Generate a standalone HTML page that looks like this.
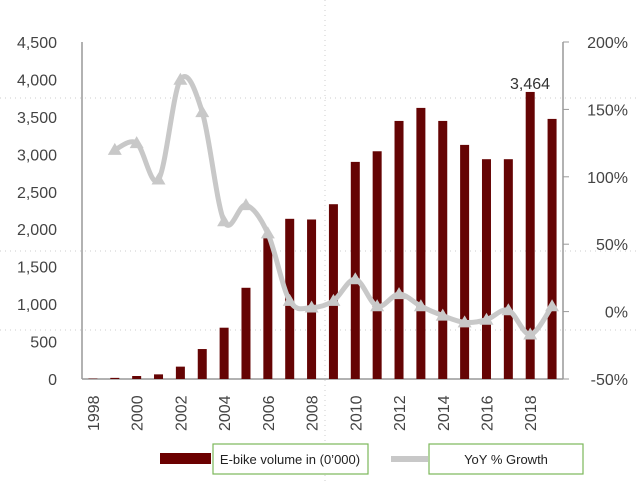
<!DOCTYPE html>
<html><head><meta charset="utf-8"><style>
body{margin:0;background:#fff;}
svg{display:block;font-family:"Liberation Sans",sans-serif;}
</style></head><body>
<svg id="chart" width="640" height="481" viewBox="0 0 640 481" xmlns="http://www.w3.org/2000/svg">
<g id="grid" stroke="#ccc" stroke-width="1" stroke-dasharray="1,4">
<line x1="325" y1="0" x2="325" y2="481"/><line x1="0" y1="251" x2="640" y2="251"/>
<line x1="0" y1="98" x2="640" y2="98"/><line x1="0" y1="330" x2="640" y2="330"/>
</g>
<line x1="82" y1="42" x2="82" y2="379" stroke="#999" stroke-width="1.5"/>
<line x1="563" y1="42" x2="563" y2="379" stroke="#999" stroke-width="1.5"/>
<line x1="82" y1="379" x2="563" y2="379" stroke="#999" stroke-width="1.5"/>
<g id="ticks"></g><g id="bars"></g><g id="line"></g><g id="labels"></g>
<text x="530" y="89" text-anchor="middle" font-size="16" fill="#333">3,464</text>
<rect x="160" y="453" width="51" height="11" fill="#6b0000"/>
<rect x="213" y="444" width="155" height="30" fill="#fff" stroke="#7cb85a" stroke-width="1.2"/>
<text x="290" y="464" text-anchor="middle" font-size="13" fill="#222">E-bike volume in (0’000)</text>
<line x1="391" y1="459" x2="428" y2="459" stroke="#c8c8c8" stroke-width="6"/>
<rect x="429" y="444" width="154" height="30" fill="#fff" stroke="#7cb85a" stroke-width="1.2"/>
<text x="506" y="464" text-anchor="middle" font-size="13" fill="#222">YoY % Growth</text>
</svg>
<script>
const years=[1998,1999,2000,2001,2002,2003,2004,2005,2006,2007,2008,2009,2010,2011,2012,2013,2014,2015,2016,2017,2018,2019];
const volume=[5,15,40,62,165,400,685,1218,1921,2139,2130,2334,2899,3041,3446,3620,3446,3126,2935,2935,3833,3473];
const growth=[null,120,125,98,172,148,67,79,58,8,3,8,24,4,13,4,-3,-8,-6,1,-17,4];
const leftTicks=[0,500,1000,1500,2000,2500,3000,3500,4000,4500];
const leftTickLabels=["0","500","1,000","1,500","2,000","2,500","3,000","3,500","4,000","4,500"];
const rightTicks=[-50,0,50,100,150,200];
const rightTickLabels=["-50%","0%","50%","100%","150%","200%"];
const NS="http://www.w3.org/2000/svg";
const x0=82,x1=563,yT=42,yB=379,band=(x1-x0)/years.length;
const xC=i=>x0+(i+0.5)*band;
const yL=v=>yB-v/4500*(yB-yT);
const yR=v=>yB-(v+50)/250*(yB-yT);
function mk(p,t,a){const e=document.createElementNS(NS,t);for(const k in a)e.setAttribute(k,a[k]);document.getElementById(p).appendChild(e);return e;}
leftTicks.forEach((v,i)=>{const t=mk('labels','text',{x:57,y:yL(v)+6,'text-anchor':'end','font-size':16,fill:'#444'});t.textContent=leftTickLabels[i];

});
rightTicks.forEach((v,i)=>{const l=mk('ticks','line',{x1:563,x2:569,y1:yR(v),y2:yR(v),stroke:'#999'});


const t=mk('labels','text',{x:628,y:yR(v)+6,'text-anchor':'end','font-size':16,fill:'#444'});t.textContent=rightTickLabels[i];

});
years.forEach((y,i)=>{const h=yB-yL(volume[i]);const r=mk('bars','rect',{x:xC(i)-4.5,y:yL(volume[i]),width:9,height:h,fill:'#650404'});


if(i%2===0){const xx=xC(i)+6,yy=431;const t=mk('labels','text',{x:xx,y:yy,transform:`rotate(-90 ${xx} ${yy})`,'font-size':16,fill:'#444'});t.textContent=y;

}});
let pts=[];growth.forEach((g,i)=>{if(g!==null)pts.push([xC(i),yR(g)]);});
let d=`M${pts[0][0]},${pts[0][1]}`;
for(let i=0;i<pts.length-1;i++){const p0=pts[Math.max(0,i-1)],p1=pts[i],p2=pts[i+1],p3=pts[Math.min(pts.length-1,i+2)];const k=1/6;
d+=` C${p1[0]+(p2[0]-p0[0])*k},${p1[1]+(p2[1]-p0[1])*k} ${p2[0]-(p3[0]-p1[0])*k},${p2[1]-(p3[1]-p1[1])*k} ${p2[0]},${p2[1]}`;}
const pl=mk('line','path',{d:d,fill:'none',stroke:'#c8c8c8','stroke-width':5,'stroke-linejoin':'round'});


pts.forEach(p=>{const m=mk('line','polygon',{points:`${p[0]-7},${p[1]+5} ${p[0]+7},${p[1]+5} ${p[0]},${p[1]-7}`,fill:'#c8c8c8'});

});
</script>
</body></html>
